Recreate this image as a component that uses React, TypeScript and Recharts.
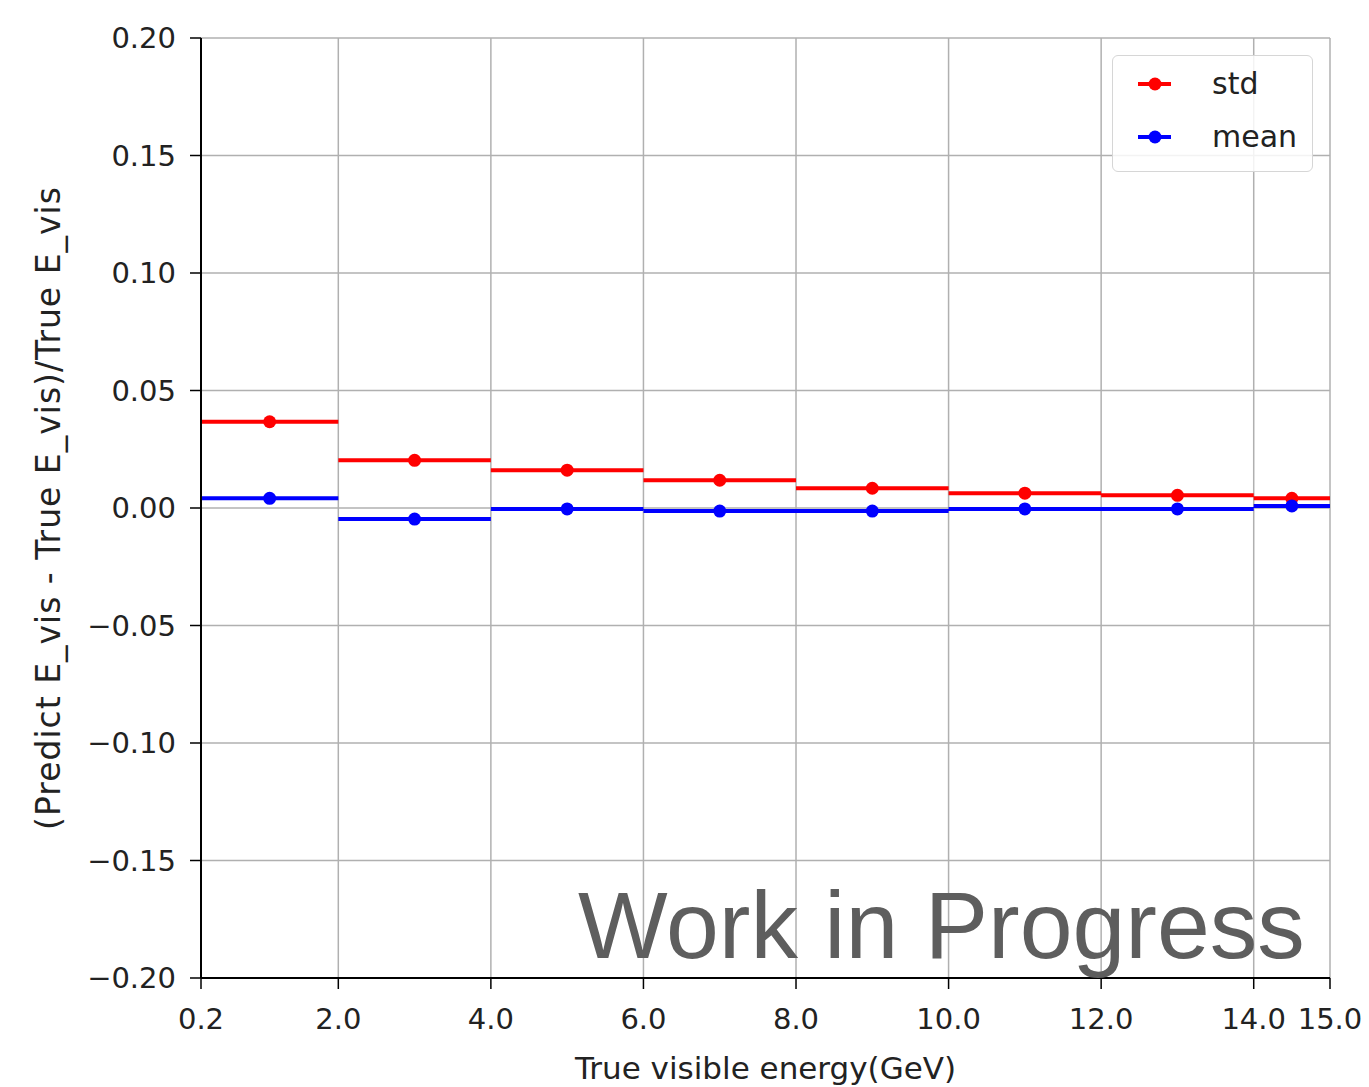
import React from "react";
import {
  ComposedChart,
  Line,
  Scatter,
  XAxis,
  YAxis,
  CartesianGrid,
  Legend,
} from "recharts";

const binEdges = [0.2, 2, 4, 6, 8, 10, 12, 14, 15];
const binCenters = [1.1, 3, 5, 7, 9, 11, 13, 14.5];
const stdValues = [0.0367, 0.0203, 0.0161, 0.0118, 0.0084, 0.0063, 0.0054, 0.0041];
const meanValues = [0.0041, -0.0047, -0.0004, -0.0013, -0.0013, -0.0004, -0.0004, 0.0009];
const xTicks = [0.2, 2, 4, 6, 8, 10, 12, 14, 15];
const yTicks = [-0.2, -0.15, -0.1, -0.05, 0, 0.05, 0.1, 0.15, 0.2];

const FONT = "'DejaVu Sans', sans-serif";
const RED = "#ff0000";
const BLUE = "#0000ff";

function segments(values: number[]) {
  const out: { x: number; y: number | null }[] = [];
  values.forEach((v, i) => {
    out.push({ x: binEdges[i], y: v });
    out.push({ x: binEdges[i + 1], y: v });
    out.push({ x: binEdges[i + 1], y: null });
  });
  return out;
}

function points(values: number[]) {
  return values.map((v, i) => ({ x: binCenters[i], y: v }));
}

const stdSeg = segments(stdValues);
const meanSeg = segments(meanValues);
const stdPts = points(stdValues);
const meanPts = points(meanValues);

const fmtY = (v: number) => (v < 0 ? "\u2212" + Math.abs(v).toFixed(2) : v.toFixed(2));
const fmtX = (v: number) => v.toFixed(1);

const dotShape = (color: string) => (props: any) => (
  <circle cx={props.cx} cy={props.cy} r={6.5} fill={color} />
);

const legendItems = [
  { name: "std", color: RED },
  { name: "mean", color: BLUE },
];

const LegendBox = () => (
  <div
    style={{
      width: 201,
      height: 117,
      border: "1.5px solid #d6d6d6",
      borderRadius: 6,
      background: "rgba(255,255,255,0.85)",
      boxSizing: "border-box",
      fontFamily: FONT,
      fontSize: 30,
      color: "#222",
      paddingTop: 1,
    }}
  >
    {legendItems.map((it) => (
      <div key={it.name} style={{ display: "flex", alignItems: "center", height: 53 }}>
        <svg width={99} height={20} style={{ flex: "none" }}>
          <line x1={25} x2={58} y1={10} y2={10} stroke={it.color} strokeWidth={4} />
          <circle cx={42} cy={10} r={6.5} fill={it.color} />
        </svg>
        <span style={{ lineHeight: "30px" }}>{it.name}</span>
      </div>
    ))}
  </div>
);

export default function App() {
  return (
    <div style={{ position: "absolute", left: 0, top: 0, width: 1369, height: 1087, background: "#fff" }}>
      <ComposedChart
        width={1369}
        height={1087}
        margin={{ top: 38, right: 39, bottom: 0, left: 81 }}
      >
        <CartesianGrid stroke="#b0b0b0" strokeWidth={1.5} />
        <XAxis
          dataKey="x"
          type="number"
          domain={[0.2, 15]}
          ticks={xTicks}
          tickFormatter={fmtX}
          interval={0}
          height={109}
          tickSize={11}
          tickMargin={19}
          axisLine={{ stroke: "#000", strokeWidth: 2 }}
          tickLine={{ stroke: "#000", strokeWidth: 1.5 }}
          tick={{ fill: "#222", fontSize: 29, fontFamily: FONT }}
          allowDataOverflow
          label={{
            value: "True visible energy(GeV)",
            position: "insideBottom",
            offset: 8,
            fill: "#222",
            fontSize: 31,
            fontFamily: FONT,
          }}
        />
        <XAxis
          xAxisId="top"
          orientation="top"
          type="number"
          domain={[0.2, 15]}
          height={0}
          tick={false}
          tickLine={false}
          axisLine={{ stroke: "#000", strokeWidth: 2 }}
        />
        <YAxis
          type="number"
          domain={[-0.2, 0.2]}
          ticks={yTicks}
          tickFormatter={fmtY}
          interval={0}
          width={120}
          tickSize={11}
          tickMargin={14}
          axisLine={{ stroke: "#000", strokeWidth: 2 }}
          tickLine={{ stroke: "#000", strokeWidth: 1.5 }}
          tick={{ fill: "#222", fontSize: 29, fontFamily: FONT }}
          allowDataOverflow
          label={{
            value: "(Predict E_vis - True E_vis)/True E_vis",
            angle: -90,
            position: "center",
            dx: -93,
            fill: "#222",
            fontSize: 33,
            letterSpacing: 1,
            fontFamily: FONT,
          }}
        />
        <YAxis
          yAxisId="right"
          orientation="right"
          type="number"
          domain={[-0.2, 0.2]}
          width={0}
          tick={false}
          tickLine={false}
          axisLine={{ stroke: "#000", strokeWidth: 2 }}
        />
        <Line
          data={stdSeg}
          dataKey="y"
          name="std"
          stroke={RED}
          strokeWidth={4}
          dot={false}
          activeDot={false}
          connectNulls={false}
          isAnimationActive={false}
          legendType="none"
        />
        <Line
          data={meanSeg}
          dataKey="y"
          name="mean"
          stroke={BLUE}
          strokeWidth={4}
          dot={false}
          activeDot={false}
          connectNulls={false}
          isAnimationActive={false}
          legendType="none"
        />
        <Scatter data={stdPts} dataKey="y" name="std" fill={RED} shape={dotShape(RED)} isAnimationActive={false} />
        <Scatter data={meanPts} dataKey="y" name="mean" fill={BLUE} shape={dotShape(BLUE)} isAnimationActive={false} />
        <Legend
          layout="vertical"
          align="center"
          verticalAlign="middle"
          content={() => <LegendBox />}
          wrapperStyle={{ left: 1112, top: 55, width: 201, height: 117 }}
        />
      </ComposedChart>
      <div
        style={{
          position: "absolute",
          left: 578,
          top: 870,
          fontFamily: "'Liberation Sans', Arial, sans-serif",
          fontSize: 95,
          color: "#5e5e5e",
          whiteSpace: "nowrap",
          lineHeight: "110px",
          pointerEvents: "none",
        }}
      >
        Work in Progress
      </div>
    </div>
  );
}
